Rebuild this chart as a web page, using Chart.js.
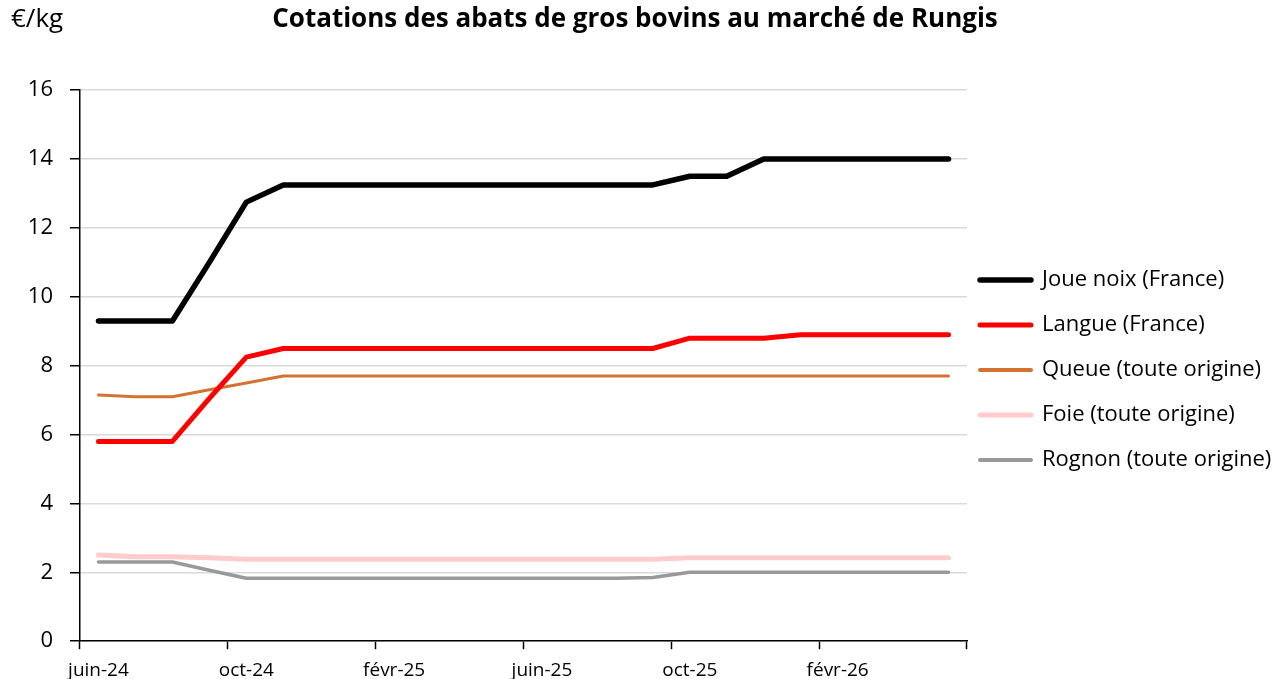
<!DOCTYPE html>
<html lang="fr">
<head>
<meta charset="utf-8">
<script src="https://cdn.jsdelivr.net/npm/chart.js@4/dist/chart.umd.min.js"></script>
<style>
  html, body { margin: 0; padding: 0; background: #fff; }
  #wrap { width: 1286px; height: 679px; }
</style>
</head>
<body>
<div id="wrap"><canvas id="chart"></canvas></div>
<script>
const months = ['juin-24', 'juil-24', 'août-24', 'sept-24', 'oct-24', 'nov-24', 'déc-24',
  'janv-25', 'févr-25', 'mars-25', 'avr-25', 'mai-25', 'juin-25', 'juil-25', 'août-25',
  'sept-25', 'oct-25', 'nov-25', 'déc-25', 'janv-26', 'févr-26', 'mars-26', 'avr-26', 'mai-26'];

const joueNoix = [9.3, 9.3, 9.3, 11.0, 12.75, 13.25, 13.25, 13.25, 13.25, 13.25, 13.25, 13.25,
  13.25, 13.25, 13.25, 13.25, 13.5, 13.5, 14, 14, 14, 14, 14, 14];
const langue = [5.8, 5.8, 5.8, 7.05, 8.25, 8.5, 8.5, 8.5, 8.5, 8.5, 8.5, 8.5,
  8.5, 8.5, 8.5, 8.5, 8.8, 8.8, 8.8, 8.9, 8.9, 8.9, 8.9, 8.9];
const queue = [7.15, 7.1, 7.1, 7.3, 7.5, 7.7, 7.7, 7.7, 7.7, 7.7, 7.7, 7.7,
  7.7, 7.7, 7.7, 7.7, 7.7, 7.7, 7.7, 7.7, 7.7, 7.7, 7.7, 7.7];
const foie = [2.5, 2.45, 2.45, 2.42, 2.38, 2.38, 2.38, 2.38, 2.38, 2.38, 2.38, 2.38,
  2.38, 2.38, 2.38, 2.38, 2.42, 2.42, 2.42, 2.42, 2.42, 2.42, 2.42, 2.42];
const rognon = [2.3, 2.3, 2.3, 2.06, 1.83, 1.83, 1.83, 1.83, 1.83, 1.83, 1.83, 1.83,
  1.83, 1.83, 1.83, 1.85, 2.0, 2.0, 2.0, 2.0, 2.0, 2.0, 2.0, 2.0];

const seriesNames = ['Joue noix (France)', 'Langue (France)', 'Queue (toute origine)',
  'Foie (toute origine)', 'Rognon (toute origine)'];
const seriesColors = ['#000000', '#ff0000', '#d4722f', '#ffcccc', '#999999'];
const seriesWidths = [5.5, 5, 3, 5, 3.5];

const FONT = "'Open Sans', sans-serif";

// "€/kg" unit label, top left
const unitLabel = {
  id: 'unitLabel',
  afterDraw(chart) {
    const ctx = chart.ctx;
    ctx.save();
    ctx.font = '26px ' + FONT;
    ctx.fillStyle = '#000';
    ctx.textBaseline = 'middle';
    ctx.textAlign = 'left';
    ctx.fillText('€/kg', 11, 20);
    ctx.restore();
  }
};

// nudge legend and title to where the original puts them
const nudge = {
  id: 'nudge',
  afterLayout(chart) {
    const lg = chart.legend;
    const dx = 980 - (lg.left + lg.options.labels.padding);
    const dy = 24;
    lg.left += dx; lg.right += dx;
    lg.top += dy; lg.bottom += dy;
    const tb = chart.titleBlock;
    tb.left -= 8; tb.right -= 8;
  }
};

const datasets = [joueNoix, langue, queue, foie, rognon].map((values, i) => ({
  label: seriesNames[i],
  data: values,
  borderColor: seriesColors[i],
  backgroundColor: seriesColors[i],
  borderWidth: seriesWidths[i],
  pointRadius: 0,
  tension: 0,
  borderCapStyle: 'round',
  borderJoinStyle: 'round'
}));

new Chart(document.getElementById('chart'), {
  type: 'line',
  data: { labels: months, datasets },
  options: {
    responsive: true,
    maintainAspectRatio: false,
    animation: false,
    layout: { padding: { left: 0, right: 0, top: 0, bottom: -13 } },
    plugins: {
      title: {
        display: true,
        text: 'Cotations des abats de gros bovins au marché de Rungis',
        color: '#000',
        font: { family: FONT, size: 26, weight: 'bold' },
        padding: { top: 4, bottom: 55 }
      },
      legend: {
        position: 'right',
        maxWidth: 319,
        labels: {
          color: '#000',
          font: { family: FONT, size: 22 },
          usePointStyle: true,
          pointStyleWidth: 51,
          boxHeight: 5,
          padding: 23,
          generateLabels(chart) {
            return chart.data.datasets.map((ds, i) => ({
              text: ds.label,
              fillStyle: ds.borderColor,
              strokeStyle: ds.borderColor,
              lineWidth: Math.max(ds.borderWidth, 4),
              lineCap: 'round',
              pointStyle: 'line',
              hidden: false,
              datasetIndex: i
            }));
          }
        }
      },
      tooltip: { enabled: false }
    },
    scales: {
      x: {
        offset: true,
        grid: {
          offset: true,
          drawOnChartArea: false,
          drawTicks: true,
          tickLength: 8,
          tickWidth: 1.5,
          tickColor: (ctx) => (ctx.index === undefined || ctx.index % 4 === 0) ? '#000' : 'rgba(0,0,0,0)',
          color: 'rgba(0,0,0,0)'
        },
        border: { color: '#000', width: 1.5 },
        ticks: {
          autoSkip: false,
          maxRotation: 0,
          minRotation: 0,
          color: '#000',
          padding: 10,
          font: { family: FONT, size: 19 },
          callback: (value, index) => index % 4 === 0 ? months[index] : ''
        }
      },
      y: {
        min: 0,
        max: 16,
        afterFit(scale) { scale.width = 80; },
        ticks: {
          stepSize: 2,
          color: '#000',
          padding: 17,
          font: { family: FONT, size: 22 }
        },
        grid: {
          color: '#d9d9d9',
          lineWidth: 1.5,
          tickColor: '#000',
          tickLength: 10
        },
        border: { color: '#000', width: 1.5 }
      }
    }
  },
  plugins: [unitLabel, nudge]
});
</script>
</body>
</html>
